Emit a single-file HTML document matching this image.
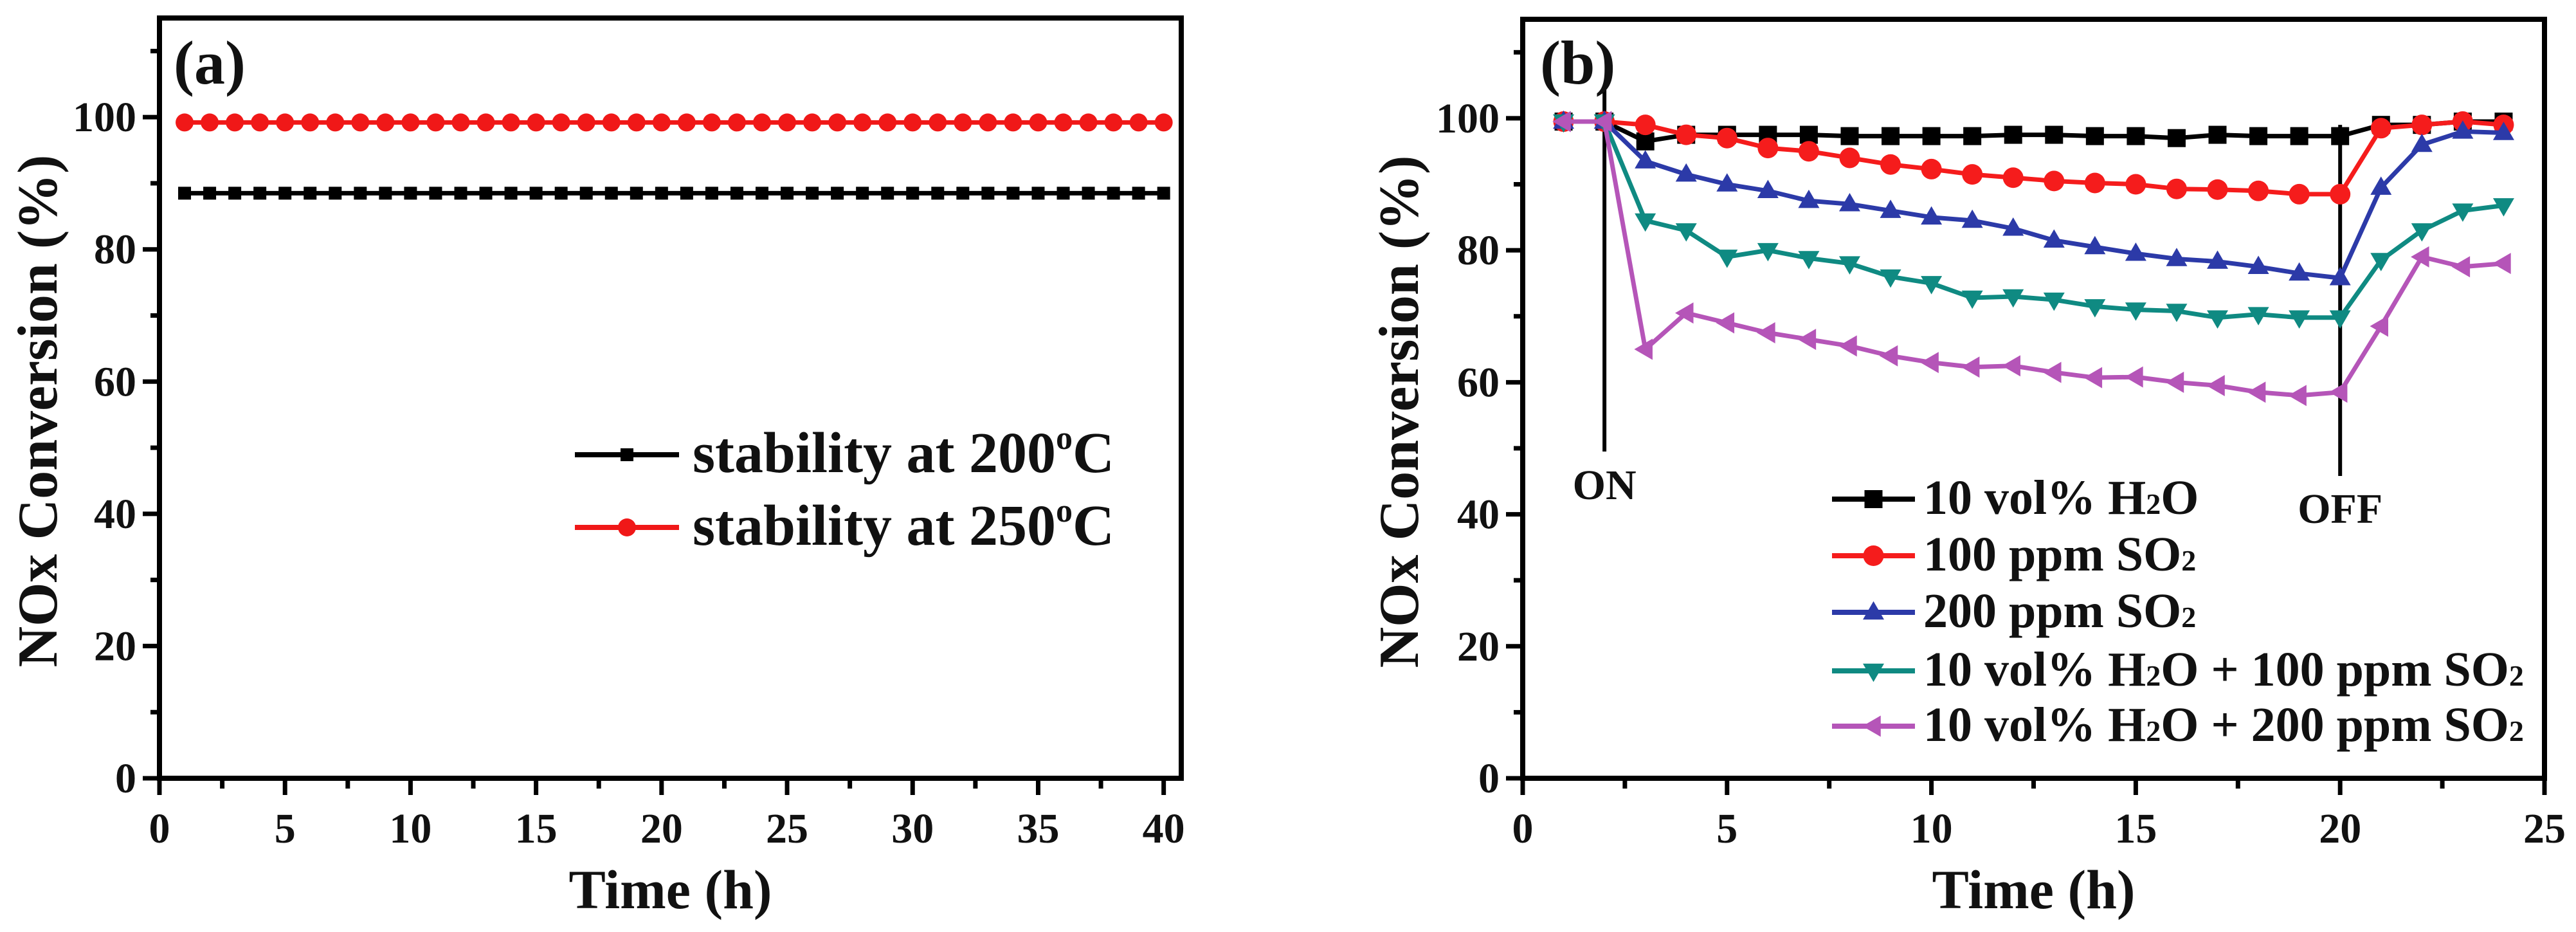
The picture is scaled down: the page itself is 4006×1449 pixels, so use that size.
<!DOCTYPE html>
<html><head><meta charset="utf-8"><style>
html,body{margin:0;padding:0;background:#fff;}
svg{display:block;font-family:"Liberation Serif",serif;font-weight:bold;}
</style></head><body>
<svg id="fig" width="4006" height="1449" viewBox="0 0 4006 1449" xmlns="http://www.w3.org/2000/svg"></svg>
<script>
// ---- Data panel (a)
const aTimes = [1,2,3,4,5,6,7,8,9,10,11,12,13,14,15,16,17,18,19,20,21,22,23,24,25,26,27,28,29,30,31,32,33,34,35,36,37,38,39,40];
const a200 = [88.5,88.5,88.5,88.5,88.5,88.5,88.5,88.5,88.5,88.5,88.5,88.5,88.5,88.5,88.5,88.5,88.5,88.5,88.5,88.5,88.5,88.5,88.5,88.5,88.5,88.5,88.5,88.5,88.5,88.5,88.5,88.5,88.5,88.5,88.5,88.5,88.5,88.5,88.5,88.5];
const a250 = [99.2,99.2,99.2,99.2,99.2,99.2,99.2,99.2,99.2,99.2,99.2,99.2,99.2,99.2,99.2,99.2,99.2,99.2,99.2,99.2,99.2,99.2,99.2,99.2,99.2,99.2,99.2,99.2,99.2,99.2,99.2,99.2,99.2,99.2,99.2,99.2,99.2,99.2,99.2,99.2];
const aXTicks = [0,5,10,15,20,25,30,35,40];
const yTicks = [0,20,40,60,80,100];
// ---- Data panel (b)
const bTimes = [1,2,3,4,5,6,7,8,9,10,11,12,13,14,15,16,17,18,19,20,21,22,23,24];
const bH2O = [99.5,99.5,96.5,97.5,97.5,97.5,97.5,97.3,97.3,97.3,97.3,97.5,97.5,97.3,97.3,97,97.5,97.3,97.3,97.3,99,99,99.5,99.5];
const bSO2_100 = [99.5,99.5,99,97.5,97,95.5,95,94,93,92.3,91.5,91,90.5,90.2,90,89.3,89.2,89,88.5,88.5,98.5,99,99.5,99];
const bSO2_200 = [99.5,99.5,93.5,91.5,90,89,87.5,87,86,85,84.5,83.3,81.5,80.5,79.5,78.7,78.3,77.5,76.5,75.8,89.5,96,98,97.8];
const bMix100 = [99.5,99.5,84.5,83,79,80,78.8,78,76,75,72.8,73,72.5,71.5,71,70.8,69.8,70.3,69.8,69.8,78.5,83,86,86.8];
const bMix200 = [99.5,99.5,65,70.5,69,67.5,66.5,65.5,64,63,62.3,62.5,61.5,60.7,60.8,60,59.5,58.5,58,58.5,68.5,79,77.5,78];
const bXTicks = [0,5,10,15,20,25];
const bOnOff = [2,20];

const NS="http://www.w3.org/2000/svg";
const svg=document.getElementById('fig');
function el(tag,attrs,parent){const e=document.createElementNS(NS,tag);for(const k in attrs)e.setAttribute(k,attrs[k]);(parent||svg).appendChild(e);return e;}

function makeAxes(p){
  const sx=v=>p.x0+(v-p.xmin)/(p.xmax-p.xmin)*(p.x1-p.x0);
  const sy=v=>p.y0-(v-p.ymin)/(p.ymax-p.ymin)*(p.y0-p.y1);
  return {sx,sy};
}
function drawFrame(p,ax,xTicks,minorStep,name){
  const g=el('g',{});
  
  
  for(let v=p.xmin;v<=p.xmax+1e-6;v+=minorStep){
    const major=xTicks.some(t=>Math.abs(t-v)<1e-6);
    const t=el('line',{x1:ax.sx(v),x2:ax.sx(v),y1:p.y0,y2:p.y0+(major?26:16),stroke:'#000','stroke-width':7},g);
    
    
  }
  xTicks.forEach(v=>{
    const t=el('text',{x:ax.sx(v),y:p.y0+100,'font-size':66,'text-anchor':'middle',fill:'#111'},g);
    t.textContent=v;
    
    
  });
  for(let v=0;v<=110;v+=10){
    const major=v%20===0;
    const t=el('line',{x1:p.x0,x2:p.x0-(major?26:14),y1:ax.sy(v),y2:ax.sy(v),stroke:'#000','stroke-width':7},g);
    
    
  }
  yTicks.forEach(v=>{
    const t=el('text',{x:p.x0-36,y:ax.sy(v)+22,'font-size':66,'text-anchor':'end',fill:'#111'},g);
    t.textContent=v;
    
    
  });
  const r=el('rect',{x:p.x0,y:p.y1,width:p.x1-p.x0,height:p.y0-p.y1,fill:'none',stroke:'#000','stroke-width':8},g);
  
  
  const yt=el('text',{x:0,y:0,'font-size':88,'text-anchor':'middle',fill:'#111',transform:`translate(${p.ytx},${(p.y0+p.y1)/2+20}) rotate(-90)`},g);
  yt.textContent='NOx Conversion (%)';
  
  
  const xt=el('text',{x:(p.x0+p.x1)/2,y:1412,'font-size':86,'text-anchor':'middle',fill:'#111'},g);
  xt.textContent='Time (h)';
  
  
}
function marker(type,x,y,color,s,parent){
  let m;
  if(type==='square') m=el('rect',{x:x-s,y:y-s,width:2*s,height:2*s,fill:color},parent);
  else if(type==='circle') m=el('circle',{cx:x,cy:y,r:s,fill:color},parent);
  else if(type==='up') m=el('polygon',{points:`${x},${y-s*1.15} ${x-s*1.1},${y+s*0.75} ${x+s*1.1},${y+s*0.75}`,fill:color},parent);
  else if(type==='down') m=el('polygon',{points:`${x},${y+s*1.15} ${x-s*1.1},${y-s*0.75} ${x+s*1.1},${y-s*0.75}`,fill:color},parent);
  else if(type==='left') m=el('polygon',{points:`${x-s*1.15},${y} ${x+s*0.75},${y-s*1.1} ${x+s*0.75},${y+s*1.1}`,fill:color},parent);
  return m;
}
function series(ax,xs,ys,color,type,s,name){
  const g=el('g',{});
  
  
  const pts=xs.map((x,i)=>ax.sx(x)+','+ax.sy(ys[i])).join(' ');
  el('polyline',{points:pts,fill:'none',stroke:color,'stroke-width':7,'stroke-linejoin':'round'},g);
  xs.forEach((x,i)=>{
    const m=marker(type,ax.sx(x),ax.sy(ys[i]),color,s,g);
    
    
  });
}
function legendEntry(x1,x2,y,color,type,s,textX,label,fs,name){
  const g=el('g',{});
  
  
  el('line',{x1:x1,x2:x2,y1:y,y2:y,stroke:color,'stroke-width':8},g);
  marker(type,(x1+x2)/2,y,color,s,g);
  const t=el('text',{x:textX,y:y+fs*0.3,'font-size':fs,fill:'#111'},g);
  t.innerHTML=label;
}

// Panel (a)
const pa={x0:248,x1:1837,y0:1210,y1:28,xmin:0,xmax:40.7,ymin:0,ymax:115,ytx:88};
const axA=makeAxes(pa);
drawFrame(pa,axA,aXTicks,2.5,'panel-a');
series(axA,aTimes,a200,'#000','square',10,'series-200C');
series(axA,aTimes,a250,'#f01818','circle',14,'series-250C');
const la=el('text',{x:270,y:130,'font-size':96,fill:'#111'});la.textContent='(a)';


legendEntry(894,1056,707,'#000','square',10,1077,'stability at 200<tspan font-size="52" dy="-36">o</tspan><tspan dy="36">C</tspan>',90,'legend-200C');
legendEntry(894,1056,820,'#f01818','circle',14,1077,'stability at 250<tspan font-size="52" dy="-36">o</tspan><tspan dy="36">C</tspan>',90,'legend-250C');

// Panel (b)
const pb={x0:2368,x1:3957,y0:1210,y1:30,xmin:0,xmax:25,ymin:0,ymax:115,ytx:2205};
const axB=makeAxes(pb);
drawFrame(pb,axB,bXTicks,2.5,'panel-b');
const onl=el('line',{x1:axB.sx(bOnOff[0]),x2:axB.sx(bOnOff[0]),y1:140,y2:702,stroke:'#000','stroke-width':6});


const offl=el('line',{x1:axB.sx(bOnOff[1]),x2:axB.sx(bOnOff[1]),y1:axB.sy(99),y2:740,stroke:'#000','stroke-width':6});


series(axB,bTimes,bH2O,'#000','square',14,'series-h2o');
series(axB,bTimes,bSO2_100,'#f51c1c','circle',16,'series-100ppm-so2');
series(axB,bTimes,bSO2_200,'#2c3aa8','up',15,'series-200ppm-so2');
series(axB,bTimes,bMix100,'#0f8a82','down',15,'series-h2o-100ppm-so2');
series(axB,bTimes,bMix200,'#b555b8','left',15,'series-h2o-200ppm-so2');
const on=el('text',{x:axB.sx(bOnOff[0]),y:776,'font-size':66,'text-anchor':'middle',fill:'#111'});on.textContent='ON';


const off=el('text',{x:axB.sx(bOnOff[1]),y:813,'font-size':66,'text-anchor':'middle',fill:'#111'});off.textContent='OFF';


const lb=el('text',{x:2395,y:130,'font-size':96,fill:'#111'});lb.textContent='(b)';


const sub=s=>`<tspan font-size="46">${s}</tspan>`;
legendEntry(2849,2978,776,'#000','square',14,2991,'10 vol% H'+sub('2')+'O',76,'legend-h2o');
legendEntry(2849,2978,864,'#f51c1c','circle',16,2991,'100 ppm SO'+sub('2'),76,'legend-100ppm-so2');
legendEntry(2849,2978,952,'#2c3aa8','up',15,2991,'200 ppm SO'+sub('2'),76,'legend-200ppm-so2');
legendEntry(2849,2978,1043,'#0f8a82','down',15,2991,'10 vol% H'+sub('2')+'O + 100 ppm SO'+sub('2'),76,'legend-h2o-100ppm-so2');
legendEntry(2849,2978,1129,'#b555b8','left',15,2991,'10 vol% H'+sub('2')+'O + 200 ppm SO'+sub('2'),76,'legend-h2o-200ppm-so2');
</script>
</body></html>
